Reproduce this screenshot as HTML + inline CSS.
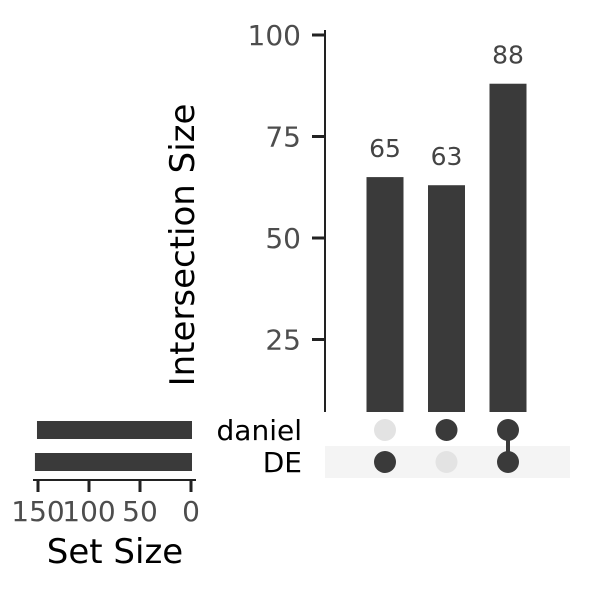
<!DOCTYPE html>
<html><head><meta charset="utf-8"><style>
body{margin:0;background:#fff}
text{font-family:"DejaVu Sans","Liberation Sans",sans-serif}
</style></head><body>
<svg id="c" width="600" height="600" xmlns="http://www.w3.org/2000/svg"></svg>
<script>
const intersections=["DE only","daniel only","daniel & DE"];
const sizes=[65,63,88];
const membership=[[false,true],[true,false],[true,true]];
const sets=["daniel","DE"];
const setSizes=[151,153];
const yTicks=[25,50,75,100];
const xTicks=[150,100,50,0];

const NS="http://www.w3.org/2000/svg";
const svg=document.getElementById('c');
function el(t,a,p){const e=document.createElementNS(NS,t);for(const k in a)e.setAttribute(k,a[k]);(p||svg).appendChild(e);return e;}
const y=v=>441-v*4.06;
const xc=i=>385+i*61.5;
const rowY=j=>430+j*32;
const sx=v=>191-v*1.02;

let r=el('rect',{x:325,y:446,width:245,height:32,fill:'#f4f4f4'});



let ax=el('line',{x1:325,y1:30,x2:325,y2:412,stroke:'#222','stroke-width':2});


yTicks.forEach(v=>{
  let t=el('line',{x1:312,x2:325,y1:y(v),y2:y(v),stroke:'#222','stroke-width':3});
  
  
  let l=el('text',{x:301,y:y(v)+10,'text-anchor':'end','font-size':28,fill:'#4d4d4d'});l.textContent=v;
  
  
});
let yt=el('text',{x:0,y:0,transform:'translate(194,245) rotate(-90)','text-anchor':'middle','font-size':34,fill:'#000'});
yt.textContent='Intersection Size';



sizes.forEach((v,i)=>{
  let b=el('rect',{x:xc(i)-18.5,y:y(v),width:37,height:412-y(v),fill:'#3a3a3a'});
  
  
  let l=el('text',{x:xc(i),y:y(v)-20,'text-anchor':'middle','font-size':25,fill:'#444'});l.textContent=v;
  
  
  const on=membership[i].map((m,j)=>m?j:-1).filter(j=>j>=0);
  if(on.length>1){
    let ln=el('line',{x1:xc(i),x2:xc(i),y1:rowY(on[0]),y2:rowY(on[on.length-1]),stroke:'#3a3a3a','stroke-width':4});
    
    
  }
  membership[i].forEach((m,j)=>{
    let d=el('circle',{cx:xc(i),cy:rowY(j),r:11,fill:m?'#3a3a3a':'#e3e3e3'});
    
    
  });
});

sets.forEach((s,j)=>{
  let l=el('text',{x:302,y:rowY(j)+10,'text-anchor':'end','font-size':28,fill:'#000'});l.textContent=s;
  
  
  let b=el('rect',{x:sx(setSizes[j]),y:rowY(j)-9,width:191-sx(setSizes[j])+1,height:18,fill:'#3a3a3a'});
  
  
});
let xa=el('line',{x1:33,x2:196,y1:480,y2:480,stroke:'#222','stroke-width':2});


xTicks.forEach(v=>{
  let t=el('line',{x1:sx(v),x2:sx(v),y1:480,y2:492,stroke:'#222','stroke-width':3});
  
  
  let l=el('text',{x:sx(v),y:521,'text-anchor':'middle','font-size':28,fill:'#4d4d4d'});l.textContent=v;
  
  
});
let xt=el('text',{x:115,y:563,'text-anchor':'middle','font-size':34,fill:'#000'});
xt.textContent='Set Size';


</script>
</body></html>
